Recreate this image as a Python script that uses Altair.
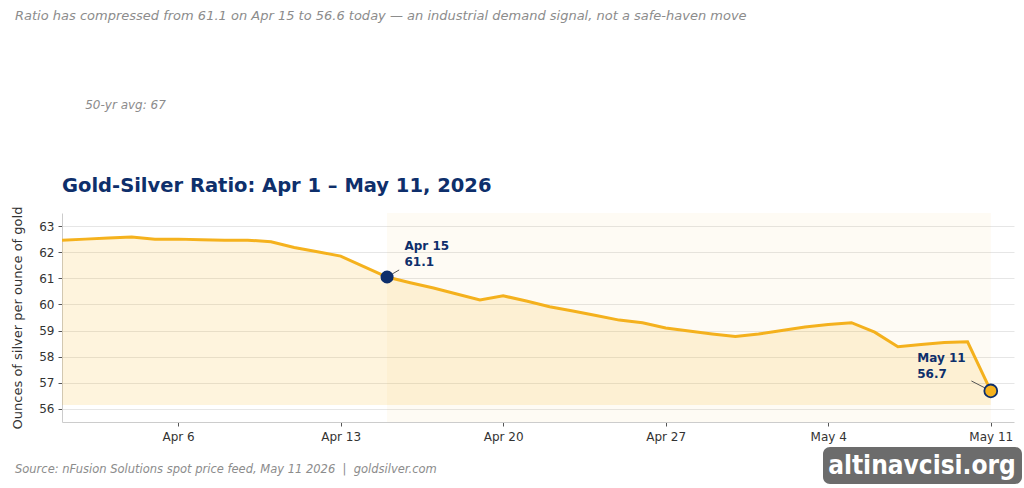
import altair as alt
import pandas as pd

# ---- data ----
dates = [d.strftime("%Y-%m-%d") for d in pd.date_range("2026-04-01", "2026-05-11", freq="D")]
ratio = [62.46, 62.50, 62.54, 62.58, 62.50, 62.50, 62.48, 62.46, 62.46, 62.40,
         62.18, 62.02, 61.85, 61.45, 61.05, 60.83, 60.63, 60.40, 60.17, 60.33,
         60.13, 59.91, 59.75, 59.58, 59.40, 59.30, 59.10, 58.98, 58.87, 58.77,
         58.87, 59.00, 59.14, 59.23, 59.30, 58.94, 58.38, 58.47, 58.54, 58.57,
         56.69]
area_floor = 56.15
tick_dates = ["2026-04-06", "2026-04-13", "2026-04-20", "2026-04-27", "2026-05-04", "2026-05-11"]
y_ticks = [56, 57, 58, 59, 60, 61, 62, 63]
span_start, span_end = "2026-04-15", "2026-05-11"
hi_date, hi_val = "2026-04-15", 61.05
lo_date, lo_val = "2026-05-11", 56.69
avg_label_date, avg_value = "2026-04-02", 67

TITLE = "Gold-Silver Ratio: Apr 1 \u2013 May 11, 2026"
SUBTITLE = ("Ratio has compressed from 61.1 on Apr 15 to 56.6 today \u2014 "
            "an industrial demand signal, not a safe-haven move")
SOURCE = "Source: nFusion Solutions spot price feed, May 11 2026 \u00a0|\u00a0 goldsilver.com"

GOLD = "#F5B21E"
NAVY = "#0E2F6B"
FONT = "DejaVu Sans"
W, H = 952, 209

df = pd.DataFrame({"date": dates, "ratio": ratio, "floor": area_floor})


def dt(s):
    y, m, d = (int(p) for p in s.split("-"))
    return alt.DateTime(year=y, month=m, date=d, utc=True)


xscale = alt.Scale(type="utc", domain=[dt("2026-04-01"), dt("2026-05-12")])
yscale = alt.Scale(domain=[55.5, 63.5], nice=False, zero=False)

AX_X = alt.Axis(values=[dt(s) for s in tick_dates], format="%b %-d",
                title=None, grid=False, tickSize=4, labelPadding=5,
                labelFont=FONT, labelFontSize=12, labelColor="#333333",
                domainColor="#cccccc", tickColor="#555555")
AX_Y = alt.Axis(values=y_ticks, title="Ounces of silver per ounce of gold",
                grid=True, gridColor="#e6e6e6", tickSize=4, labelPadding=4,
                labelFont=FONT, labelFontSize=12, labelColor="#333333",
                labelOverlap=False,
                domainColor="#cccccc", tickColor="#555555",
                titleFont=FONT, titlePadding=14, titleFontSize=13,
                titleFontWeight="normal", titleColor="#333333")


def xs(field):
    return alt.X(field, scale=xscale, axis=AX_X)


def ys(field):
    return alt.Y(field, scale=yscale, axis=AX_Y)


base = alt.Chart(df)
line = base.mark_line(color=GOLD, strokeWidth=3).encode(x=xs("date:T"), y=ys("ratio:Q"))
area = base.mark_area(color=GOLD, opacity=0.15).encode(x=xs("date:T"), y=ys("ratio:Q"), y2="floor:Q")

span_df = pd.DataFrame({"start": [span_start], "end": [span_end], "top": [63.5], "bottom": [55.5]})
span = alt.Chart(span_df).mark_rect(color=GOLD, opacity=0.05).encode(
    x=xs("start:T"), x2="end:T", y=ys("top:Q"), y2="bottom:Q")

conn_df = pd.DataFrame({
    "x1": ["2026-04-15", "2026-05-10T04:00:00Z"],
    "y1": [hi_val, 57.07],
    "x2": ["2026-04-15T12:30:00Z", lo_date],
    "y2": [61.32, lo_val],
})
conn = alt.Chart(conn_df).mark_rule(color="#555555", strokeWidth=1).encode(
    x=xs("x1:T"), y=ys("y1:Q"), x2="x2:T", y2="y2:Q")

hi_pt = alt.Chart(pd.DataFrame({"date": [hi_date], "ratio": [hi_val]})).mark_point(
    filled=True, color=NAVY, size=170, opacity=1).encode(x=xs("date:T"), y=ys("ratio:Q"))
lo_pt = alt.Chart(pd.DataFrame({"date": [lo_date], "ratio": [lo_val]})).mark_point(
    filled=True, fill=GOLD, stroke=NAVY, strokeWidth=1.8, size=165, opacity=1).encode(
    x=xs("date:T"), y=ys("ratio:Q"))

lab_df = pd.DataFrame({
    "date": ["2026-04-15T18:00:00Z", "2026-04-15T18:00:00Z",
             "2026-05-07T20:00:00Z", "2026-05-07T20:00:00Z"],
    "val": [62.23, 61.62, 57.95, 57.34],
    "text": ["Apr 15", "61.1", "May 11", "56.7"],
})
labels = alt.Chart(lab_df).mark_text(
    align="left", baseline="middle", font=FONT, fontSize=12, fontWeight="bold",
    color=NAVY).encode(x=xs("date:T"), y=ys("val:Q"), text="text:N")

avg_df = pd.DataFrame({"date": [avg_label_date], "val": [avg_value], "text": ["50-yr avg: 67"]})
avg_txt = alt.Chart(avg_df).mark_text(
    align="left", baseline="middle", dy=-17, font=FONT, fontSize=12, fontStyle="italic",
    color="#8c8c8c").encode(x=xs("date:T"), y=ys("val:Q"), text="text:N")

title_txt = alt.Chart(pd.DataFrame({"t": [TITLE]})).mark_text(
    align="left", baseline="middle", font=FONT, fontSize=19.5, fontWeight="bold",
    color=NAVY).encode(x=alt.value(0), y=alt.value(-27), text="t:N")
sub_txt = alt.Chart(pd.DataFrame({"t": [SUBTITLE]})).mark_text(
    align="left", baseline="middle", font=FONT, fontSize=13, fontStyle="italic",
    color="#8c8c8c").encode(x=alt.value(-47), y=alt.value(-197), text="t:N")
src_txt = alt.Chart(pd.DataFrame({"t": [SOURCE]})).mark_text(
    align="left", baseline="middle", font=FONT, fontSize=11.5, fontStyle="italic",
    color="#8c8c8c").encode(x=alt.value(-47), y=alt.value(257), text="t:N")

wm_box = alt.Chart(pd.DataFrame({"t": ["wm"]})).mark_rect(
    color="#5f5f5f", opacity=0.92, cornerRadius=7).encode(
    x=alt.value(761), x2=alt.value(960), y=alt.value(234), y2=alt.value(271))
wm_txt = alt.Chart(pd.DataFrame({"t": ["altinavcisi.org"]})).mark_text(
    align="center", baseline="middle", font="DejaVu Sans Condensed, Liberation Sans", fontSize=26,
    fontWeight="bold", color="white").encode(x=alt.value(860), y=alt.value(253), text="t:N")

chart = alt.layer(line, span, area, conn, hi_pt, lo_pt, labels, avg_txt, title_txt,
                  sub_txt, src_txt, wm_box, wm_txt).properties(
    width=W, height=H,
    background="white",
    autosize=alt.AutoSizeParams(type="none"),
    padding={"left": 62, "top": 213, "right": 10, "bottom": 66},
).configure_view(strokeWidth=0)

chart.save("out.html", embed_options={"renderer": "svg", "actions": False})
